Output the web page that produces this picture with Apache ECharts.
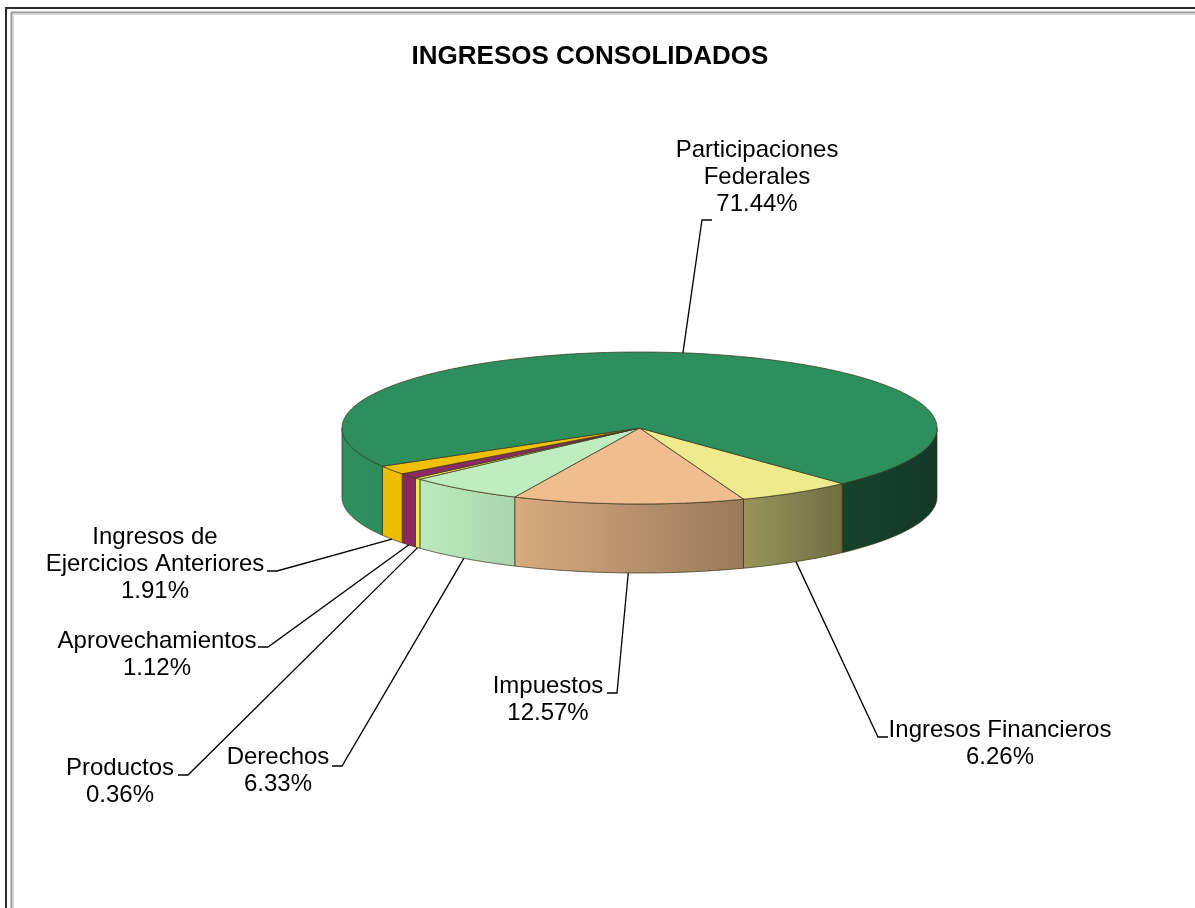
<!DOCTYPE html>
<html>
<head>
<meta charset="utf-8">
<title>Ingresos Consolidados</title>
<script src="https://cdn.jsdelivr.net/npm/echarts@6/dist/echarts.min.js"></script>
<style>
  html, body { margin: 0; padding: 0; background: #fff; }
  #chart { width: 1195px; height: 908px; }
</style>
</head>
<body>
<div id="chart"></div>
<script>
// -- Data, clockwise from the front-right edge of the pie --
const categories = [
  'Ingresos Financieros',
  'Impuestos',
  'Derechos',
  'Productos',
  'Aprovechamientos',
  'Ingresos de\nEjercicios Anteriores',
  'Participaciones\nFederales'
];
const shares = [6.26, 12.57, 6.33, 0.36, 1.12, 1.91, 71.44];
const sliceColors = ['#EEEB8F', '#F0BE8E', '#BEEDC0', '#EFEF50', '#8B2B5F', '#F0C000', '#2E8F5E'];

// -- Label layout: centre x / first line y, leader elbow, end of short tick --
const labelPos = [[1000, 730], [548, 686], [278, 757], [120, 768], [157, 641], [155, 537], [757, 150]];
const leaderElbow = [[878, 737], [617, 693], [342, 766], [188, 775], [268, 647], [277, 571], [702, 220]];
const leaderEnd = [[888, 737], [607, 693], [332, 766], [178, 775], [258, 647], [267, 571], [712, 220]];

// -- Pie geometry (tilted ellipse + wall depth) --
const PIE = { cx: 639.5, cy: 428, rx: 297.5, ry: 76, depth: 69, startAngle: 47 };
const EDGE = 'rgba(60,55,30,0.75)';
const FONT = '24px "Liberation Sans", Arial, sans-serif';
const LINE_H = 27;
// wall lighting across the pie width: [position 0..1, brightness]
const SHADE = [[0, 1], [0.15, 0.98], [0.29, 0.9], [0.67, 0.64], [0.84, 0.47], [1, 0.4]];

const total = shares.reduce((a, b) => a + b, 0);
const sliceAngles = [];
let acc = PIE.startAngle;
shares.forEach(v => {
  const span = v / total * 360;
  sliceAngles.push([acc, acc + span]);
  acc += span;
});

function pt(deg, dy) {
  const r = deg * Math.PI / 180;
  return [PIE.cx + PIE.rx * Math.cos(r), PIE.cy + PIE.ry * Math.sin(r) + (dy || 0)];
}

function arc(a, b, dy) {
  const n = Math.max(2, Math.ceil(Math.abs(b - a) * 2));
  const pts = [];
  for (let i = 0; i <= n; i++) pts.push(pt(a + (b - a) * i / n, dy));
  return pts;
}

function shade(hex, f) {
  const n = parseInt(hex.slice(1), 16);
  const c = [(n >> 16) & 255, (n >> 8) & 255, n & 255].map(v => Math.round(v * f));
  return `rgb(${c.join(',')})`;
}

function sideFill(hex) {
  return {
    type: 'linear', global: true,
    x: PIE.cx - PIE.rx, y: 0, x2: PIE.cx + PIE.rx, y2: 0,
    colorStops: SHADE.map(([o, f]) => ({ offset: o, color: shade(hex, f) }))
  };
}

// -- Slice: front wall(s) + top face --
function renderSlice(params) {
  const i = params.dataIndex;
  const [a, b] = sliceAngles[i];
  const children = [];
  [[0, 180], [360, 540]].forEach(([lo, hi]) => {
    const s = Math.max(a, lo), e = Math.min(b, hi);
    if (e > s) {
      children.push({
        type: 'polygon',
        shape: { points: arc(s, e, 0).concat(arc(e, s, PIE.depth)) },
        style: { fill: sideFill(sliceColors[i]), stroke: EDGE, lineWidth: 1 }
      });
    }
  });
  children.push({
    type: 'polygon',
    shape: { points: [[PIE.cx, PIE.cy]].concat(arc(a, b, 0)) },
    style: { fill: sliceColors[i], stroke: EDGE, lineWidth: 1 }
  });
  return { type: 'group', children };
}

// -- Label + leader line --
function renderLabel(params) {
  const i = params.dataIndex;
  const [a, b] = sliceAngles[i];
  const mid = (a + b) / 2;
  const front = Math.sin(mid * Math.PI / 180) > 0;
  const anchor = pt(mid, front ? PIE.depth : 0);
  const text = categories[i] + '\n' + shares[i].toFixed(2) + '%';
  const n = text.split('\n').length;
  return {
    type: 'group',
    children: [
      {
        type: 'polyline',
        shape: { points: [anchor, leaderElbow[i], leaderEnd[i]] },
        style: { stroke: '#000', lineWidth: 1.3, fill: null }
      },
      {
        type: 'text',
        style: {
          text, x: labelPos[i][0], y: labelPos[i][1] + (n - 1) * LINE_H / 2,
          align: 'center', verticalAlign: 'middle',
          font: FONT, lineHeight: LINE_H, fill: '#000'
        }
      }
    ]
  };
}

const chart = echarts.init(document.getElementById('chart'), null, { renderer: 'canvas' });

chart.setOption({
  backgroundColor: '#fff',
  animation: false,
  title: {
    text: 'INGRESOS CONSOLIDADOS',
    left: 590, top: 44, textAlign: 'center', padding: 0,
    textStyle: { fontFamily: '"Liberation Sans", Arial, sans-serif', fontSize: 26, fontWeight: 'bold', color: '#000' }
  },
  graphic: [
    { type: 'line', shape: { x1: 6, y1: 8, x2: 1195, y2: 8 }, style: { stroke: '#2a2a2a', lineWidth: 2 } },
    { type: 'line', shape: { x1: 6, y1: 7, x2: 6, y2: 908 }, style: { stroke: '#2a2a2a', lineWidth: 2 } },
    { type: 'line', shape: { x1: 11, y1: 12.5, x2: 1195, y2: 12.5 }, style: { stroke: '#9a9a9a', lineWidth: 2 } },
    { type: 'line', shape: { x1: 11.5, y1: 12, x2: 11.5, y2: 908 }, style: { stroke: '#9a9a9a', lineWidth: 2 } },
    { type: 'line', shape: { x1: 13, y1: 14.5, x2: 1195, y2: 14.5 }, style: { stroke: '#d8d8d8', lineWidth: 1 } },
    { type: 'line', shape: { x1: 13.5, y1: 14, x2: 13.5, y2: 908 }, style: { stroke: '#d8d8d8', lineWidth: 1 } }
  ],
  series: [
    {
      type: 'custom', name: 'slices', coordinateSystem: 'none', silent: true,
      data: shares, renderItem: renderSlice
    },
    {
      type: 'custom', name: 'labels', coordinateSystem: 'none', silent: true,
      data: shares, renderItem: renderLabel
    }
  ]
});
</script>
</body>
</html>
